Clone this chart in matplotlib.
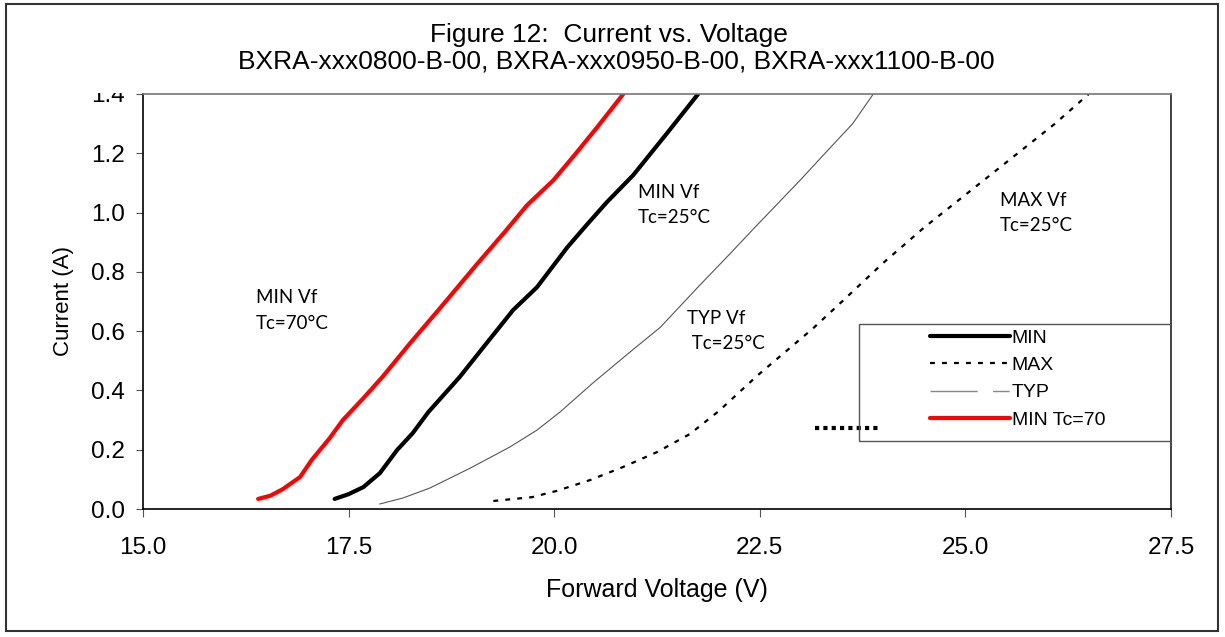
import matplotlib.pyplot as plt
from matplotlib.lines import Line2D
from matplotlib.patches import Rectangle

plt.rcParams['font.family'] = ['Liberation Sans', 'DejaVu Sans']

# --- DATA ---
min70_v = [16.40, 16.55, 16.70, 16.91, 17.05, 17.27, 17.43, 17.68, 17.91, 18.25, 18.61,
           19.07, 19.40, 19.67, 19.99, 20.25, 20.52, 20.84]
min70_i = [0.034, 0.045, 0.067, 0.108, 0.165, 0.239, 0.300, 0.374, 0.445, 0.560, 0.677,
           0.829, 0.935, 1.025, 1.109, 1.195, 1.287, 1.400]

min25_v = [17.33, 17.50, 17.68, 17.88, 18.09, 18.28, 18.47, 18.85, 19.18, 19.50, 19.79,
           20.16, 20.40, 20.64, 20.96, 21.37, 21.75]
min25_i = [0.034, 0.050, 0.074, 0.121, 0.199, 0.256, 0.327, 0.445, 0.560, 0.671, 0.748,
           0.883, 0.960, 1.035, 1.126, 1.267, 1.400]

typ_v = [17.88, 18.16, 18.49, 18.98, 19.46, 19.79, 20.07, 20.47, 20.92, 21.29, 21.77,
         22.10, 22.44, 22.99, 23.35, 23.63, 23.88]
typ_i = [0.017, 0.037, 0.071, 0.138, 0.209, 0.266, 0.327, 0.425, 0.529, 0.613, 0.755,
         0.850, 0.950, 1.109, 1.217, 1.300, 1.400]

max_v = [19.26, 19.73, 20.03, 20.44, 20.84, 21.25, 21.65, 22.00, 22.47, 23.15, 23.50,
         24.00, 24.50, 25.00, 25.50, 26.09, 26.50]
max_i = [0.027, 0.040, 0.061, 0.098, 0.142, 0.192, 0.253, 0.330, 0.450, 0.610, 0.700,
         0.830, 0.950, 1.060, 1.170, 1.300, 1.400]

# stray dotted swatch left of the legend
stray_v = [23.17, 23.94]
stray_i = [0.273, 0.273]

x_ticks = [15.0, 17.5, 20.0, 22.5, 25.0, 27.5]
y_ticks = [0.0, 0.2, 0.4, 0.6, 0.8, 1.0, 1.2, 1.4]

# --- FIGURE ---
fig = plt.figure(figsize=(12.25, 6.37), dpi=100)
ax = fig.add_axes([143 / 1225, 1 - 509 / 637, (1171 - 143) / 1225, (509 - 94) / 637])

fig.patches.append(Rectangle((6 / 1225, 6 / 637), 1212 / 1225, 627 / 637, transform=fig.transFigure,
                             fill=False, edgecolor='#333333', linewidth=1.5))

ax.plot(max_v, max_i, color='black', linewidth=1.6, dashes=(2.2, 3.2), label='MAX')
ax.plot(typ_v, typ_i, color='#555555', linewidth=0.8, label='TYP')
ax.plot(min25_v, min25_i, color='black', linewidth=3, solid_capstyle='round', label='MIN')
ax.plot(min70_v, min70_i, color='#ff0000', linewidth=3, solid_capstyle='round', label='MIN Tc=70')
ax.plot(stray_v, stray_i, color='black', linewidth=3, dashes=(1, 1))

ax.set_xlim(15.0, 27.5)
ax.set_ylim(0.0, 1.4)
ax.set_xticks(x_ticks)
ax.set_yticks(y_ticks)
ax.set_xticklabels([f'{v:.1f}' for v in x_ticks])
ax.set_yticklabels([f'{v:.1f}' for v in y_ticks])
ax.tick_params(axis='both', labelsize=17.5, direction='out', color='#555555')
ax.tick_params(axis='x', length=6, pad=14)
ax.tick_params(axis='y', length=5, pad=8)
ax.spines['top'].set_color('#777777')
ax.spines['right'].set_color('#222222')
for s in ax.spines.values():
    s.set_linewidth(1.2)

ax.set_xlabel('Forward Voltage (V)', fontsize=18, labelpad=14)
ax.set_ylabel('Current (A)', fontsize=16, labelpad=12)

fig.text(0.497, 1 - 35 / 637, 'Figure 12:  Current vs. Voltage', ha='center', va='center', fontsize=19)
fig.text(0.503, 1 - 62 / 637, 'BXRA-xxx0800-B-00, BXRA-xxx0950-B-00, BXRA-xxx1100-B-00',
         ha='center', va='center', fontsize=19)

# top tick label is cut off in the original
fig.patches.append(Rectangle((80 / 1225, 1 - 92.5 / 637), 60 / 1225, 14 / 637, transform=fig.transFigure,
                             facecolor='white', edgecolor='none', zorder=10))

# curve annotations
afont = dict(fontsize=13.5, family=['Lato', 'DejaVu Sans'], va='center', ha='left', linespacing=1.6)
ax.text(16.37, 0.67, 'MIN Vf\nTc=70°C', **afont)
ax.text(21.02, 1.025, 'MIN Vf\nTc=25°C', **afont)
ax.text(21.61, 0.60, 'TYP Vf\n Tc=25°C', **afont)
ax.text(25.42, 0.998, 'MAX Vf\nTc=25°C', **afont)

# legend
ax.add_patch(Rectangle((0.6965, 0.164), 0.3035, 0.282, transform=ax.transAxes,
                       fill=False, edgecolor='#555555', linewidth=1.0, zorder=4))
handles = [
    Line2D([], [], color='black', linewidth=3, solid_capstyle='round'),
    Line2D([], [], color='black', linewidth=1.6, dashes=(2.2, 3.2)),
    Line2D([], [], color='#888888', linewidth=1.0, dashes=(34, 11, 12, 200)),
    Line2D([], [], color='#ff0000', linewidth=3, solid_capstyle='round'),
]
ax.legend(handles, ['MIN', 'MAX', 'TYP', 'MIN Tc=70'], loc='upper left',
          bbox_to_anchor=(0.758, 0.452), frameon=False, fontsize=14,
          handlelength=4.1, handletextpad=0.1, labelspacing=0.5, borderaxespad=0)

fig.savefig('out.png', dpi=100)
